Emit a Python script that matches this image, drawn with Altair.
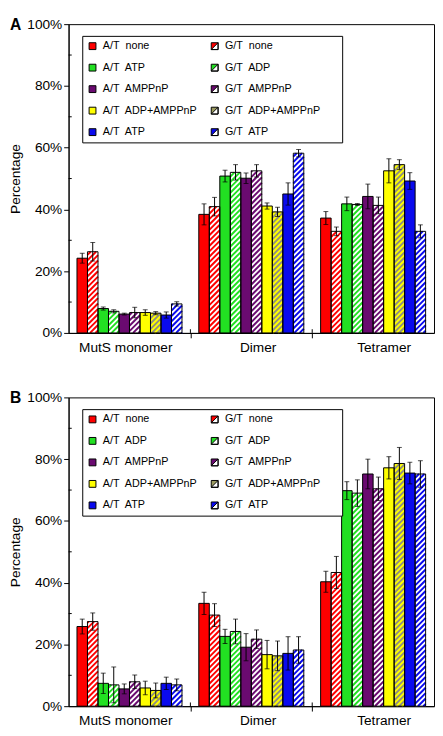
import math
import json
import altair as alt
import pandas as pd

# ---------------- data ----------------
categories = ["MutS monomer", "Dimer", "Tetramer"]
category_label_pos = [5.4, 18.0, 30.0]          # where the category names sit on the x axis
category_bounds = [11.6, 23.2]                   # separators between categories

NB = "\u00a0"
FILL = "\u2800\u2800"   # blank filler that widens the legend's second column
labels_A = ["A/T" + NB + " none", "G/T" + NB + " none", "A/T" + NB + " ATP", "G/T" + NB + " ADP",
            "A/T" + NB + " AMPPnP", "G/T" + NB + " AMPPnP", "A/T" + NB + " ADP+AMPPnP",
            "G/T" + NB + " ADP+AMPPnP" + FILL, "A/T" + NB + " ATP", "G/T" + NB + " ATP"]
labels_B = ["A/T" + NB + " none", "G/T" + NB + " none", "A/T" + NB + " ADP", "G/T" + NB + " ADP",
            "A/T" + NB + " AMPPnP", "G/T" + NB + " AMPPnP", "A/T" + NB + " ADP+AMPPnP",
            "G/T" + NB + " ADP+AMPPnP" + FILL, "A/T" + NB + " ATP", "G/T" + NB + " ATP"]
hatched = [False, True, False, True, False, True, False, True, False, True]
series_colors = ["#ff0000", "#ff0000", "#22e022", "#22e022", "#6a0a70", "#6a0a70",
                 "#ffff00", "#ffff00", "#0a0aee", "#0a0aee"]
hatch_background = ["white", "white", "white", "white", "white", "white",
                    "white", "#8e8e80", "white", "white"]
legend_fill = ["#ff0000", "#ff0000", "#22e022", "#22e022", "#6a0a70", "#6a0a70",
               "#ffff00", "#9a9a60", "#0a0aee", "#0a0aee"]

# Panel A values (%), per category, bar order as in legend (row-major)
A_monomer = [24.2, 26.3, 7.9, 7.0, 6.1, 6.6, 6.6, 6.4, 5.8, 9.4]
A_monomer_err = [1.6, 3.0, 0.5, 0.5, 0.3, 1.7, 0.9, 0.5, 1.0, 0.7]
A_dimer = [38.4, 40.9, 50.8, 52.0, 50.1, 52.5, 41.1, 39.2, 45.0, 58.2]
A_dimer_err = [3.4, 3.0, 1.9, 2.5, 1.7, 2.0, 1.0, 1.5, 3.6, 1.2]
A_tetramer = [37.2, 32.9, 41.8, 41.6, 44.2, 41.3, 52.5, 54.5, 49.2, 32.9]
A_tetramer_err = [2.1, 1.4, 2.2, 0.3, 4.0, 2.7, 3.9, 1.6, 2.7, 2.1]

# Panel B values (%)
B_monomer = [25.8, 27.4, 7.4, 6.9, 5.6, 7.9, 5.9, 5.1, 7.4, 6.9]
B_monomer_err = [2.4, 2.8, 3.3, 5.8, 1.6, 2.2, 2.2, 2.4, 2.0, 1.9]
B_dimer = [33.3, 29.5, 22.6, 24.2, 19.1, 21.7, 16.7, 16.3, 17.1, 18.2]
B_dimer_err = [3.6, 3.7, 2.3, 4.0, 4.4, 3.0, 4.6, 4.8, 5.4, 4.3]
B_tetramer = [40.3, 43.3, 69.8, 69.0, 75.2, 70.4, 77.2, 78.6, 75.5, 75.2]
B_tetramer_err = [3.4, 5.2, 2.9, 4.3, 4.8, 3.8, 3.6, 5.2, 3.5, 4.3]

y_ticks = [0, 20, 40, 60, 80, 100]
y_minor_ticks = [10, 30, 50, 70, 90]

# ---------------- layout constants ----------------
PLOT_W, PLOT_H = 374, 316
GROUP = 11.6      # x units per category
PAD = 0.8         # x units before first bar of a group
BAR = 1.0         # x units per bar
X_MAX = GROUP * 3
HATCH_PERIOD = 5.5  # px, vertical period of the stripes
FONT = "Liberation Sans"


def xq(field):
    return alt.X(field, type="quantitative",
                 scale=alt.Scale(domain=[0, X_MAX], nice=False, zero=False),
                 axis=alt.Axis(values=category_label_pos + category_bounds,
                               labelExpr=("indexof(%s, datum.value) >= 0 ? %s[indexof(%s, datum.value)] : ''"
                                          % (json.dumps(category_label_pos), json.dumps(categories),
                                             json.dumps(category_label_pos))),
                               tickOpacity={"condition": {"test": "indexof(%s, datum.value) >= 0" % json.dumps(category_bounds),
                                                          "value": 1}, "value": 0},
                               title=None, grid=False, tickSize=5, labelPadding=3,
                               labelFontSize=14, labelFont=FONT, labelColor="black",
                               domainColor="black", tickColor="black", labelFlush=False,
                               labelOverlap=False))


def yq(field):
    return alt.Y(field, type="quantitative",
                 scale=alt.Scale(domain=[0, 100], nice=False, zero=True),
                 axis=alt.Axis(values=y_ticks, labelExpr="datum.value + '%'",
                               title="Percentage", titleFont=FONT, titleFontSize=14,
                               titleFontWeight="normal", titleColor="black", titlePadding=4,
                               grid=False, tickSize=5, labelPadding=2, labelFontSize=14,
                               labelFont=FONT, labelColor="black", domainColor="black",
                               tickColor="black"))


def build_rows(series, errs):
    rows = []
    for c, (vals, es) in enumerate(zip(series, errs)):
        for i, (v, e) in enumerate(zip(vals, es)):
            x0 = c * GROUP + PAD + i * BAR
            rows.append(dict(x0=x0, x1=x0 + BAR, xc=x0 + BAR / 2, v=v, base=0.0,
                             lo=v - e, hi=v + e, color=series_colors[i],
                             bg=hatch_background[i], hatched=hatched[i]))
    return pd.DataFrame(rows)


def stripes_for(df):
    sx = PLOT_W / X_MAX
    sy = PLOT_H / 100.0
    segs = []
    for _, r in df[df.hatched].iterrows():
        X0, X1, T = r.x0 * sx, r.x1 * sx, r.v * sy
        kmin = math.floor(-X1 / HATCH_PERIOD)
        kmax = math.ceil((T - X0) / HATCH_PERIOD)
        for k in range(kmin, kmax + 1):
            c = k * HATCH_PERIOD
            xs = max(X0, -c)
            xe = min(X1, T - c)
            if xe - xs > 0.4:
                segs.append(dict(sx0=xs / sx, sy0=(xs + c) / sy, sx1=xe / sx,
                                 sy1=(xe + c) / sy, color=r.color))
    return pd.DataFrame(segs)


GT_SHAPE = "M-1,-1L1,-1L-1,1Z M1,-1L1,1L-1,1L1,1Z"


def panel(letter, labels, series, errs):
    df = build_rows(series, errs)
    solid = df[~df.hatched]
    hat = df[df.hatched]
    stripes = stripes_for(df)

    hatch_bg = alt.Chart(hat).mark_rect().encode(
        x=xq("x0"), x2="x1", y=yq("v"), y2="base",
        color=alt.Color("bg:N", scale=None))
    stripe_layer = alt.Chart(stripes).mark_rule(strokeWidth=2, strokeCap="butt").encode(
        x=xq("sx0"), x2="sx1", y=yq("sy0"), y2="sy1",
        color=alt.Color("color:N", scale=None))
    solid_layer = alt.Chart(solid).mark_rect(stroke="black", strokeWidth=1).encode(
        x=xq("x0"), x2="x1", y=yq("v"), y2="base",
        color=alt.Color("color:N", scale=None))
    outline = alt.Chart(hat).mark_rect(filled=False, stroke="black", strokeWidth=1).encode(
        x=xq("x0"), x2="x1", y=yq("v"), y2="base")
    err = alt.Chart(df).mark_rule(stroke="black", strokeWidth=1).encode(
        x=xq("xc"), y=yq("lo"), y2="hi")
    caps = alt.Chart(df).transform_fold(["lo", "hi"], as_=["end", "ev"]).mark_tick(
        orient="horizontal", size=5, thickness=1, color="black").encode(
        x=xq("xc"), y=yq("ev:Q"))
    minor = alt.Chart(pd.DataFrame({"t": y_minor_ticks, "a": 0.0, "b": 0.3})).mark_rule(
        stroke="black", strokeWidth=1).encode(x=xq("a"), x2="b", y=yq("t"))
    sep = alt.Chart(pd.DataFrame({"s": category_bounds, "a": 0.0, "b": 1.2})).mark_rule(
        stroke="black", strokeWidth=1).encode(x=xq("s"), y=yq("a"), y2="b")

    # panel letter (annotation in the top-left corner)
    tag = alt.Chart(pd.DataFrame({"letter": [letter]})).mark_text(
        font=FONT, fontSize=16, fontWeight="bold", color="black", align="left",
        baseline="alphabetic").encode(text="letter:N", x=alt.value(-60), y=alt.value(6))

    leg = alt.Legend(
        title=None, orient="none", legendX=14, legendY=12, columns=2, direction="horizontal",
        labelExpr="%s[datum.value]" % json.dumps(labels, ensure_ascii=False),
        strokeColor="black", fillColor="white", padding=5, cornerRadius=0,
        symbolSize=49, symbolStrokeWidth=1, symbolStrokeColor="black", symbolOpacity=1,
        labelFont=FONT, labelFontSize=11, labelColor="black", labelOffset=5,
        rowPadding=10, columnPadding=12, labelLimit=300)
    dom = list(range(10))
    legend_layer = alt.Chart(pd.DataFrame({"k": dom})).transform_filter("false").mark_point(
        filled=True, strokeWidth=1, size=49, opacity=1).encode(
        fill=alt.Fill("k:N", scale=alt.Scale(domain=dom, range=legend_fill), legend=leg),
        stroke=alt.Stroke("k:N", scale=alt.Scale(domain=dom, range=["black"] * 10), legend=leg),
        shape=alt.Shape("k:N", scale=alt.Scale(
            domain=dom, range=[GT_SHAPE if h else "square" for h in hatched]), legend=leg))

    return alt.layer(hatch_bg, stripe_layer, solid_layer, outline, err, caps, minor, sep,
                     tag, legend_layer).properties(width=PLOT_W, height=PLOT_H)


pA = panel("A", labels_A, [A_monomer, A_dimer, A_tetramer],
           [A_monomer_err, A_dimer_err, A_tetramer_err])
pB = panel("B", labels_B, [B_monomer, B_dimer, B_tetramer],
           [B_monomer_err, B_dimer_err, B_tetramer_err])

chart = alt.vconcat(pA, pB, spacing=35).resolve_scale(
    fill="independent", shape="independent", stroke="independent",
    x="independent", y="independent"
).resolve_legend(fill="independent", shape="independent", stroke="independent").properties(
    padding=0
).configure_view(stroke="black", strokeWidth=1)

chart.save("out.html", embed_options={"renderer": "svg", "actions": False})
